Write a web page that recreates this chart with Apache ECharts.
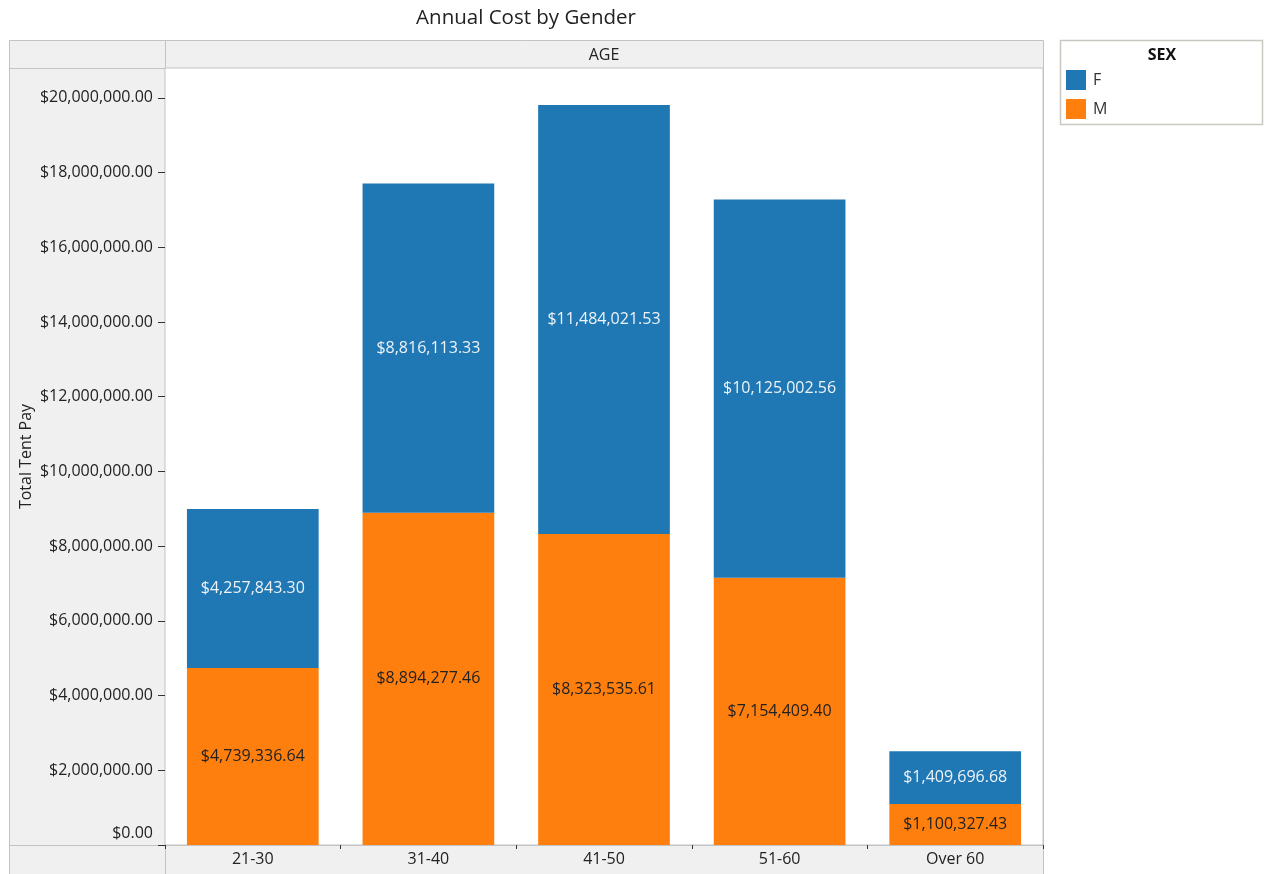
<!DOCTYPE html>
<html>
<head>
<meta charset="utf-8">
<title>Annual Cost by Gender</title>
<script src="https://cdn.jsdelivr.net/npm/echarts@6/dist/echarts.min.js"></script>
<style>
  html, body { margin: 0; padding: 0; background: #fff; }
  #chart { width: 1265px; height: 874px; }
</style>
</head>
<body>
<div id="chart"></div>
<script>
  // data
  const ageGroups = ['21-30', '31-40', '41-50', '51-60', 'Over 60']
  const femaleCost = [4257843.30, 8816113.33, 11484021.53, 10125002.56, 1409696.68]
  const maleCost = [4739336.64, 8894277.46, 8323535.61, 7154409.40, 1100327.43]
  const yMax = 20800000
  const yStep = 2000000

  const FONT = '"Open Sans", "Noto Sans", sans-serif'
  const BORDER = '#c3c3c3'

  function money(v) {
    return '$' + v.toLocaleString('en-US', { minimumFractionDigits: 2, maximumFractionDigits: 2 })
  }

  const myChart = echarts.init(document.getElementById('chart'))

  myChart.setOption({
    animation: false,
    textStyle: { fontFamily: FONT },
    graphic: [
      { // outer frame
        type: 'rect',
        z: -10,
        shape: { x: 9.5, y: 40.5, width: 1034, height: 840 },
        style: { fill: '#f0f0f0', stroke: BORDER, lineWidth: 1 }
      },
      {
        type: 'line',
        z: -9,
        shape: { x1: 9, y1: 68.5, x2: 1043, y2: 68.5 },
        style: { stroke: BORDER, lineWidth: 1 }
      },
      {
        type: 'line',
        z: -9,
        shape: { x1: 9, y1: 845.5, x2: 1043, y2: 845.5 },
        style: { stroke: BORDER, lineWidth: 1 }
      },
      {
        type: 'line',
        z: -9,
        shape: { x1: 165.5, y1: 40, x2: 165.5, y2: 874 },
        style: { stroke: BORDER, lineWidth: 1 }
      },
      {
        type: 'text',
        x: 526,
        y: 18,
        style: {
          text: 'Annual Cost by Gender', fill: '#222', font: '20.5px ' + FONT,
          textAlign: 'center', textVerticalAlign: 'middle'
        }
      },
      {
        type: 'text',
        x: 604,
        y: 55,
        style: {
          text: 'AGE', fill: '#222', font: '16px ' + FONT,
          textAlign: 'center', textVerticalAlign: 'middle'
        }
      },
      { // legend box
        type: 'rect',
        z: -10,
        shape: { x: 1060.5, y: 40.5, width: 202, height: 84 },
        style: { fill: '#fff', stroke: '#c8c8c0', lineWidth: 1.5 }
      },
      {
        type: 'text',
        x: 1162,
        y: 55,
        style: {
          text: 'SEX', fill: '#111', font: 'bold 16px ' + FONT,
          textAlign: 'center', textVerticalAlign: 'middle'
        }
      }
    ],
    legend: {
      data: ['F', 'M'],
      orient: 'vertical',
      left: 1066,
      top: 70,
      padding: 0,
      icon: 'rect',
      itemWidth: 20,
      itemHeight: 20,
      itemGap: 9,
      textStyle: { fontFamily: FONT, fontSize: 16, color: '#333', padding: [0, 0, 0, 2] }
    },
    grid: {
      left: 165,
      right: 222,
      top: 68,
      bottom: 29,
      show: true,
      backgroundColor: '#fff',
      borderColor: BORDER,
      borderWidth: 1
    },
    xAxis: {
      type: 'category',
      data: ageGroups,
      axisLine: { show: false },
      axisTick: {
        show: true,
        interval: 0,
        alignWithLabel: false,
        length: 4,
        lineStyle: { color: '#333' }
      },
      axisLabel: { fontSize: 16, color: '#222', margin: 6, fontFamily: FONT }
    },
    yAxis: {
      type: 'value',
      min: 0,
      max: yMax,
      interval: yStep,
      name: 'Total Tent Pay',
      nameLocation: 'middle',
      nameGap: 131,
      nameMoveOverlap: false,
      nameTextStyle: { fontSize: 16, color: '#222', fontFamily: FONT },
      splitLine: { show: false },
      axisLine: { show: false },
      axisTick: { show: true, length: 7, lineStyle: { color: '#333' } },
      axisLabel: {
        showMaxLabel: false,
        margin: 12,
        fontSize: 16,
        color: '#222',
        fontFamily: FONT,
        formatter(v) {
          if (v === 0) return '{z|$0.00}'
          return money(v)
        },
        rich: {
          z: { fontSize: 16, color: '#222', fontFamily: FONT, padding: [0, 0, 24, 0] }
        }
      }
    },
    series: [
      {
        name: 'M',
        type: 'bar',
        stack: 'cost',
        barWidth: '75%',
        data: maleCost,
        itemStyle: { color: '#ff7f0e' },
        label: {
          show: true,
          position: 'inside',
          fontSize: 16,
          color: '#222',
          fontFamily: FONT,
          formatter: (p) => money(p.value)
        }
      },
      {
        name: 'F',
        type: 'bar',
        stack: 'cost',
        barWidth: '75%',
        data: femaleCost,
        itemStyle: { color: '#1f77b4' },
        label: {
          show: true,
          position: 'inside',
          fontSize: 16,
          color: '#eef3f8',
          fontFamily: FONT,
          formatter: (p) => money(p.value)
        }
      }
    ]
  })
</script>
</body>
</html>
